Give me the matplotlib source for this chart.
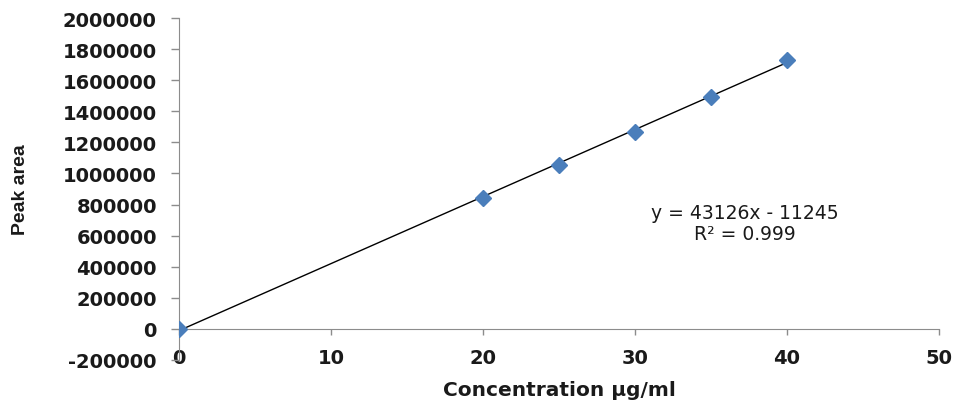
import matplotlib

matplotlib.use("Agg")
import matplotlib.pyplot as plt

# calibration data
conc = [0, 20, 25, 30, 35, 40]  # µg/ml
area = [0, 840000, 1056000, 1269000, 1490000, 1731000]
SLOPE, INTERCEPT = 43126, -11245  # trendline as printed on the chart
fit_x = [0, 40]
x_ticks = [0, 10, 20, 30, 40, 50]
y_ticks = list(range(-200000, 2000001, 200000))

BLUE = "#4A7EBB"
AXIS = "#8c8c8c"
INK = "#1a1a1a"

fig = plt.figure(figsize=(9.59, 4.06), dpi=100)
ax = fig.add_axes([0.1867, 0.111, 0.7925, 0.842])

ax.plot(fit_x, [SLOPE * x + INTERCEPT for x in fit_x], color="black", lw=1.0, zorder=2)
ax.plot(conc, area, ls="none", marker="D", ms=8.5, color=BLUE, mec=BLUE, zorder=3)

ax.set_xlim(0, 50)
ax.set_ylim(-200000, 2000000)
ax.set_xticks(x_ticks)
ax.set_yticks(y_ticks)
ax.set_xticklabels([str(v) for v in x_ticks])
ax.set_yticklabels([str(v) for v in y_ticks])

for s in ("top", "right"):
    ax.spines[s].set_visible(False)
ax.spines["left"].set_color(AXIS)
ax.spines["bottom"].set_color(AXIS)
ax.spines["bottom"].set_position(("data", 0))

tick_font = dict(family="DejaVu Sans", weight="bold", size=14)
ax.tick_params(axis="y", length=6, width=1, color=AXIS, pad=10, labelcolor=INK)
ax.tick_params(axis="x", length=4, width=1, color=AXIS, pad=10, labelcolor=INK)
for lab in ax.get_xticklabels() + ax.get_yticklabels():
    lab.set_fontproperties(matplotlib.font_manager.FontProperties(**tick_font))

fig.text(0.021, 0.532, "Peak area", rotation=90, ha="center", va="center",
         family=["Liberation Sans Narrow", "Liberation Sans"], weight="bold",
         size=14, color=INK)
fig.text(0.583, 0.037, "Concentration µg/ml", ha="center", va="center",
         family="DejaVu Sans", weight="bold", size=14.5, color=INK)

ax.text(37.2, 680000, "y = 43126x - 11245\nR² = 0.999", ha="center", va="center",
        family="DejaVu Sans", size=13.5, color=INK, linespacing=1.15)

fig.savefig("out.png", dpi=100)
